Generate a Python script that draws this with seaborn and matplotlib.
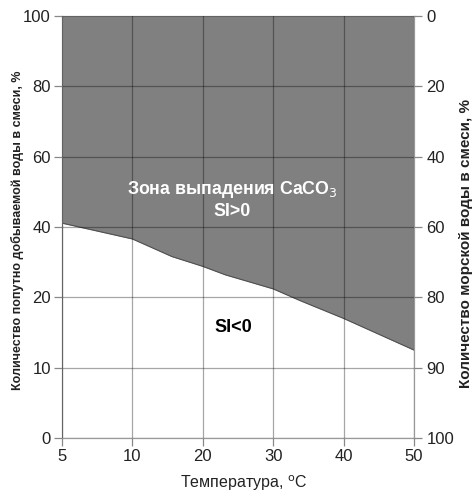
import numpy as np
import pandas as pd
import seaborn as sns
import matplotlib
matplotlib.use("Agg")
import matplotlib.pyplot as plt

# ---- data ----
x_ticks = [5, 10, 20, 30, 40, 50]
y_ticks = [0, 10, 20, 40, 60, 80, 100]
y2_labels = [100 - v for v in y_ticks]
temp = [5, 10, 15.6, 20, 23.2, 30, 33.9, 40, 50]
water = [41.1, 36.6, 31.6, 28.8, 26.4, 22.4, 19.5, 17.0, 12.5]

sns.set_theme(style="white")
plt.rcParams["font.family"] = ["Liberation Sans", "DejaVu Sans"]

xpos = np.arange(len(x_ticks))
ypos = np.arange(len(y_ticks))
fx = (lambda v: np.interp(v, x_ticks, xpos), lambda v: np.interp(v, xpos, x_ticks))
fy = (lambda v: np.interp(v, y_ticks, ypos), lambda v: np.interp(v, ypos, y_ticks))

fig = plt.figure(figsize=(4.75, 4.95), dpi=100)
ax = fig.add_axes([62 / 475, 1 - 438 / 495, (414 - 62) / 475, (438 - 16) / 495])
ax.set_xscale("function", functions=fx)
ax.set_yscale("function", functions=fy)

df = pd.DataFrame({"t": temp, "w": water})
ax.fill_between(df["t"], df["w"], 100, color="#808080", linewidth=0, zorder=1)
sns.lineplot(data=df, x="t", y="w", ax=ax, color="#505050", linewidth=0.8, zorder=2)

ax.set_xlim(5, 50)
ax.set_ylim(0, 100)
ax.set_xticks(x_ticks)
ax.set_xticklabels([str(v) for v in x_ticks])
ax.set_yticks(y_ticks)
ax.set_yticklabels([str(v) for v in y_ticks])
ax.minorticks_off()
ax.set_axisbelow(False)
ax.grid(True, color="black", alpha=0.35, linewidth=0.9)
ax.tick_params(axis="both", which="major", direction="out", length=6, width=0.9,
               color="#888888", labelsize=12, labelcolor="#222222", pad=2,
               bottom=True, left=True)
for s in ax.spines.values():
    s.set_color("#999999")
    s.set_linewidth(0.9)
ax.set_xlabel("")
ax.set_ylabel("")

ax2 = ax.twinx()
ax2.set_yscale("function", functions=fy)
ax2.set_ylim(0, 100)
ax2.set_yticks(y_ticks)
ax2.set_yticklabels([str(v) for v in y2_labels])
ax2.minorticks_off()
ax2.tick_params(axis="y", direction="out", length=6, width=0.9, color="#888888",
                labelsize=12, labelcolor="#222222", pad=3, right=True)
for s in ax2.spines.values():
    s.set_visible(False)

ax.text(0.483, 0.588, "Зона выпадения CaCO$_3$", transform=ax.transAxes, ha="center",
        va="center", color="white", fontsize=12.8, fontweight="bold", zorder=5)
ax.text(0.483, 0.536, "SI>0", transform=ax.transAxes, ha="center", va="center",
        color="white", fontsize=12.8, fontweight="bold", zorder=5)
ax.text(0.486, 0.263, "SI<0", transform=ax.transAxes, ha="center", va="center",
        color="black", fontsize=13, fontweight="bold", zorder=5)

fig.text(244 / 475, 1 - 483 / 495, "Температура, $^{\\mathsf{o}}$C", ha="center",
         va="center", fontsize=11.5, color="#222222")
fig.text(17 / 475, 1 - 230 / 495, "Количество попутно добываемой воды в смеси, %",
         rotation=90, ha="center", va="center", fontsize=9, fontweight="bold", color="#222222")
fig.text(466 / 475, 1 - 243 / 495, "Количество морской воды в смеси, %",
         rotation=90, ha="center", va="center", fontsize=11, fontweight="bold", color="#222222")

fig.savefig("out.png", dpi=100)
